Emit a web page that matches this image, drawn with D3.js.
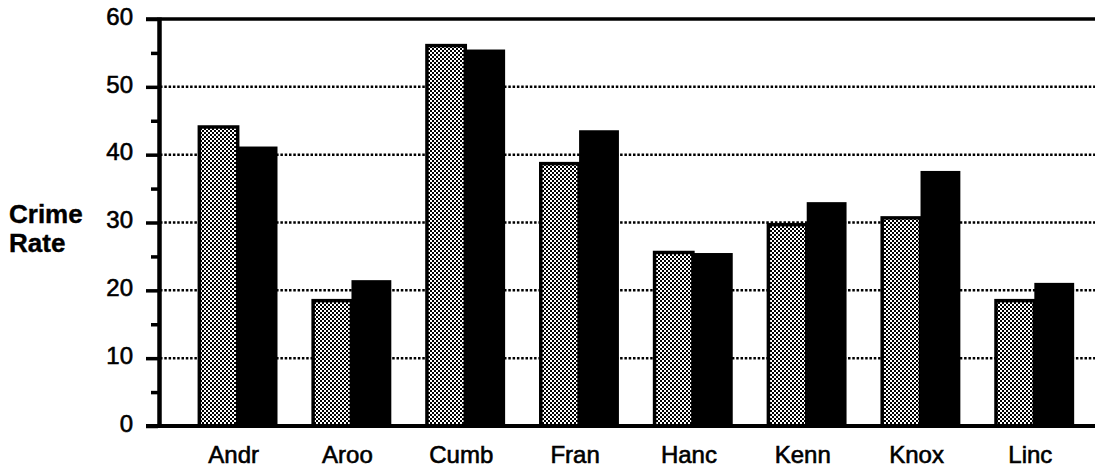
<!DOCTYPE html>
<html>
<head>
<meta charset="utf-8">
<script src="https://cdn.jsdelivr.net/npm/d3@7"></script>
<style>
  html, body { margin: 0; padding: 0; background: #fff; }
  svg { display: block; }
  text { font-family: "Liberation Sans", Arial, Helvetica, sans-serif; fill: #000; }
</style>
</head>
<body>
<svg id="chart" width="1095" height="474"></svg>
<script>
const categories = ["Andr", "Aroo", "Cumb", "Fran", "Hanc", "Kenn", "Knox", "Linc"];
const seriesA = [44.3, 18.7, 56.3, 38.9, 25.8, 29.9, 30.9, 18.7];
const seriesB = [41.2, 21.5, 55.5, 43.6, 25.5, 33.0, 37.6, 21.1];
const yTicks = [0, 10, 20, 30, 40, 50, 60];
const yMinorTicks = [5, 15, 25, 35, 45, 55];
const gridTicks = [10, 20, 30, 40, 50];
const yTitle = ["Crime", "Rate"];

const W = 1095, H = 474;
const svg = d3.select("#chart");

const y = d3.scaleLinear().domain([0, 60]).range([426, 19]);
const x = d3.scaleBand().domain(categories).range([158, 1114]).paddingInner(0.3).paddingOuter(0.35);
const xs = d3.scaleBand().domain(["a", "b"]).range([0, x.bandwidth()]);

const defs = svg.append("defs");
const pat = defs.append("pattern").attr("id", "dots").attr("patternUnits", "userSpaceOnUse")
  .attr("width", 4).attr("height", 4);
pat.append("rect").attr("width", 4).attr("height", 4).attr("fill", "#fff");
pat.append("rect").attr("x", 0).attr("y", 0).attr("width", 2).attr("height", 2).attr("fill", "#000");
pat.append("rect").attr("x", 2).attr("y", 2).attr("width", 2).attr("height", 2).attr("fill", "#000");

// gridlines
svg.append("g").selectAll("line").data(gridTicks).join("line")
  .attr("x1", 160).attr("x2", W)
  .attr("y1", d => y(d)).attr("y2", d => y(d))
  .attr("stroke", "#000").attr("stroke-width", 2.5).attr("stroke-dasharray", "2.5,1.8");

// bars
const g = svg.append("g");
g.selectAll("rect.a").data(categories).join("rect").attr("class", "a")
  .attr("x", d => x(d) + xs("a") + 1.5)
  .attr("width", xs.bandwidth() - 1.5)
  .attr("y", (d, i) => y(seriesA[i]) + 1.5)
  .attr("height", (d, i) => y(0) - y(seriesA[i]) - 1.5)
  .attr("fill", "url(#dots)").attr("stroke", "#000").attr("stroke-width", 3.5);
g.selectAll("rect.b").data(categories).join("rect").attr("class", "b")
  .attr("x", d => x(d) + xs("b"))
  .attr("width", xs.bandwidth())
  .attr("y", (d, i) => y(seriesB[i]))
  .attr("height", (d, i) => y(0) - y(seriesB[i]))
  .attr("fill", "#000");

// axes frame
svg.append("line").attr("x1", 159.5).attr("x2", 159.5).attr("y1", y(60) - 1.5).attr("y2", y(0) + 1.5)
  .attr("stroke", "#000").attr("stroke-width", 4.5);
svg.append("line").attr("x1", 146).attr("x2", W).attr("y1", y(60)).attr("y2", y(60))
  .attr("stroke", "#000").attr("stroke-width", 3.5);
svg.append("line").attr("x1", 146).attr("x2", W).attr("y1", y(0)).attr("y2", y(0))
  .attr("stroke", "#000").attr("stroke-width", 4);

// y axis via d3 axis
const yAxis = svg.append("g").attr("transform", "translate(158,0)")
  .call(d3.axisLeft(y).tickValues(yTicks).tickSize(12).tickPadding(13).tickFormat(d3.format("d")));
yAxis.select(".domain").remove();
yAxis.selectAll(".tick line").attr("stroke", "#000").attr("stroke-width", 3.5);
yAxis.selectAll(".tick text").attr("font-size", 24).attr("dy", "0.22em")
  .style("font-family", "'Liberation Sans', Arial, sans-serif").attr("fill", "#000")
  .attr("stroke", "#000").attr("stroke-width", 0.6);

const yMinor = svg.append("g").attr("transform", "translate(158,0)")
  .call(d3.axisLeft(y).tickValues(yMinorTicks).tickSize(7).tickFormat(""));
yMinor.select(".domain").remove();
yMinor.selectAll(".tick line").attr("stroke", "#000").attr("stroke-width", 3.5);

// x labels
svg.append("g").selectAll("text").data(categories).join("text")
  .attr("x", d => x(d) + x.bandwidth() / 2 - 4)
  .attr("y", 463)
  .attr("text-anchor", "middle")
  .attr("font-size", 24)
  .attr("stroke", "#000").attr("stroke-width", 0.6)
  .text(d => d);

// y title
svg.append("text").attr("x", 9).attr("y", 223).attr("font-size", 26).attr("font-weight", "bold")
  .attr("stroke", "#000").attr("stroke-width", 0.4)
  .selectAll("tspan").data(yTitle).join("tspan")
  .attr("x", 9).attr("dy", (d, i) => i === 0 ? 0 : 29).text(d => d);
</script>
</body>
</html>
